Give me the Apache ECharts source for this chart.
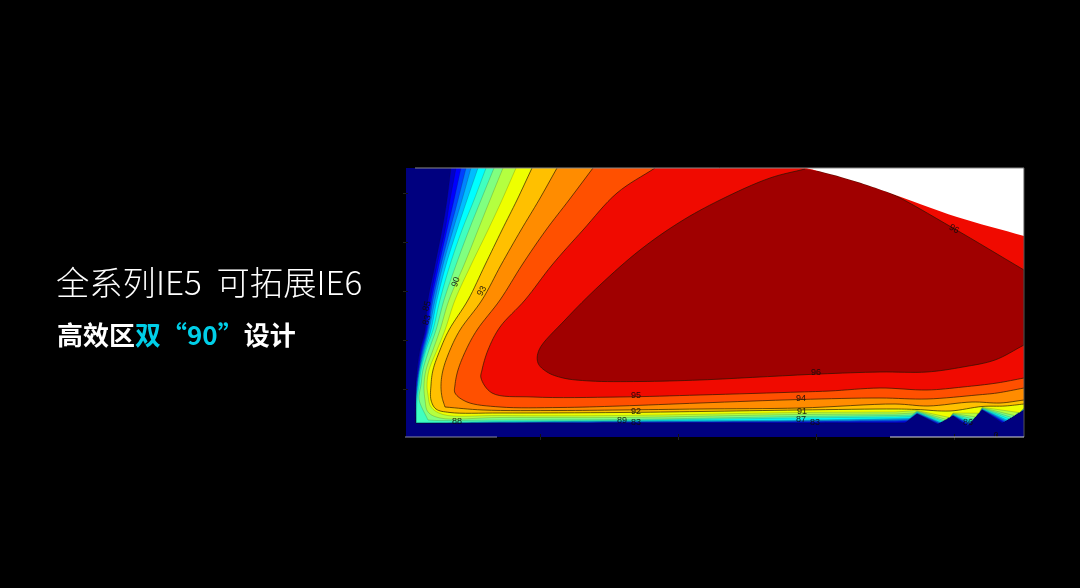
<!DOCTYPE html>
<html>
<head>
<meta charset="utf-8">
<style>html,body{margin:0;padding:0;background:#000}#c{width:1080px;height:588px;filter:blur(0.5px)}</style>
<script src="https://cdn.jsdelivr.net/npm/echarts@6/dist/echarts.min.js"></script>
</head>
<body>
<div id="c"></div>
<script>
var headline = "全系列IE5  可拓展IE6";
var subWhiteA = "高效区";
var subCyan = "双“90”";
var subWhiteB = "设计";

var c1 = [[45,269],[41,237],[36,207],[29,172],[22,137],[19,107],[14,87],[11,67],[10,52],[10,14],[499,14],[511,23],[531,13],[547,21],[561,11],[576,27],[596,14],[618,27]];
var c2 = [[50,269],[44,237],[39,207],[31,172],[24,137],[20,107],[15,87],[12,67],[10,52],[10,14],[214,14.4],[394,14.6],[489,14.7],[500,15],[511,23.2],[531.6,13.3],[547,21.2],[561.6,11.6],[576,27.2],[596.9,14.5],[618,27.1]];
var c3 = [[55,269],[48,237],[41,207],[33,172],[25.5,137],[21,107],[16,87],[12.5,67],[10.5,52],[10,37],[10,14],[94,14.3],[214,14.7],[394,15.2],[489,15.5],[501,16],[511,23.4],[532.3,13.6],[547,21.4],[562.2,12.3],[576,27.4],[597.8,15],[618,27.2]];
var c4 = [[60,269],[52,237],[44,207],[35,172],[27,137],[22,107],[17,87],[13,67],[11,52],[10.1,37],[10.1,14.1],[94,14.5],[214,15],[394,15.7],[489,16.5],[502,17],[511,23.7],[532.9,14],[547,21.7],[562.8,12.9],[576,27.7],[598.6,15.6],[618,27.4]];
var c5 = [[65,269],[56,237],[47,207],[37,172],[29,137],[23,107],[18,87],[13.5,67],[11.5,52],[10.2,37],[10.2,14.1],[94,14.7],[214,15.5],[394,16.3],[489,17.5],[503,18],[511,24],[533.7,14.4],[547,22],[563.6,13.7],[576,28],[599.7,16.2],[618,27.6]];
var c6 = [[72,269],[61,237],[51,207],[40,172],[31,137],[25,107],[19,87],[14,67],[12,52],[10.3,37],[10.3,14.2],[94,15],[214,16],[394,17],[489,18.5],[504,19],[511,24.4],[534.7,14.8],[547,22.3],[564.5,14.7],[576,28.3],[601,17],[618,27.8]];
var c7 = [[80,269],[68,237],[56,207],[44,172],[34,137],[27,107],[20,87],[15,67],[13,52],[11,37],[10.5,22],[10.5,14.5],[51,14.7],[94,15.5],[214,16.5],[394,19],[489,20],[505,20.5],[511,25],[536.1,15.6],[547,22.7],[565.8,16.1],[576,28.6],[603,18.2],[618,28.1]];
var c8 = [[88,269],[75,237],[63,207],[50,172],[38,137],[30,107],[23,87],[17,67],[15,52],[13,40],[14,34],[22,17],[31,16.5],[94,17],[214,17.5],[394,20.5],[489,21.5],[506,22],[511,25.5],[537.9,16.4],[547,23.1],[567.5,17.9],[576,29],[605.5,19.6],[618,28.4]];
var c9 = [[97,269],[84,237],[72,207],[58,172],[43,137],[34,107],[27,87],[20,67],[18,52],[19,37],[22,25],[34,19],[94,19.5],[214,19.5],[394,22.5],[489,23],[508,24],[511,26],[540.1,17.6],[547,23.5],[569.6,20.1],[576,29.3],[608.5,21.4],[618,28.7]];
var c10 = [[110,269],[96,237],[82,207],[65,172],[49,137],[39,107],[31,87],[23,67],[21,52],[22,42],[25,30],[37,22.5],[94,21.5],[214,21.5],[394,24.5],[489,25],[511,26.5],[543.8,19.4],[547,24],[573,23.8],[576,29.7],[613.6,24.4],[618,29]];
var c11 = [[126,269],[111,237],[96,207],[79,172],[62,137],[43,107],[34,87],[27,67],[25,52],[25,37],[30,28],[44,24.5],[94,24],[214,24.5],[294,25.5],[394,27],[489,28],[511,27.5],[544,26],[576,30.5],[599,31],[618,33]];
var c12 = [[151,269],[133,237],[115,207],[95,172],[76,137],[54,107],[44,87],[37,67],[35,52],[36,40],[39,30],[77,27],[154,26.5],[214,27],[294,28],[394,29],[489,33],[522,31],[566,35],[594,34],[618,37]];
var c13 = [[187,269],[163,237],[140,207],[116,172],[94,137],[71,107],[60,87],[52,67],[49,52],[49,44],[61,35],[94,30],[154,29.5],[214,31],[294,34],[394,37.5],[474,39],[521,38],[571,42],[591,44],[618,49]];
var c14 = [[249,269],[211,244],[177,207],[146,172],[119,137],[94,110],[82,87],[76,67],[75,59],[86,44],[127,40],[214,40],[294,42],[394,45],[424,46],[474,49],[521,47],[557,50],[591,54],[618,59]];
var c15 = [[399,268],[364,259],[314,237],[274,215],[234,187],[194,152],[159,117],[133,87],[132,74],[141,65],[157,59],[184,56],[234,55.5],[294,57],[354,60],[414,63],[474,65],[521,65],[557,70],[589,77],[618,92],[618,167],[547,209],[484,244],[461,252],[434,260.3],[411,266.3]];
var blank = [[400,269],[411,266.3],[434,260.3],[461,252],[484,244],[551,220],[618,201],[618,269]];

var contours = [c1,c2,c3,c4,c5,c6,c7,c8,c9,c10,c11,c12,c13,c14,c15];
var bandColors = ["#0000c8","#0000ff","#0040ff","#0084ff","#00bcff","#00ffff","#40ffbf","#80ff80","#b4ff40","#eeff00","#ffc000","#ff8c00","#ff5000","#f00a00","#a00000"];
var baseColor = "#00007f";

var contourTexts = ["90","93","85","83","88","95","92","89","83","96","94","91","87","83","86","96","0"];
var contourTextAt = [[50,155],[76,146],[21,131],[21,117],[51,15],[230,41],[230,25],[216,16],[230,14],[410,64],[395,38],[396,25],[395,17],[409,14],[562,14],[548,208],[590,1]];
var contourTextTurn = [72,62,75,75,0,0,0,0,0,0,0,0,0,0,0,-30,0];

var xTicks = [134,272,410,548];
var xTicksLow = [134,272,410,548,590];
var yTicks = [48,97,146,195,244];
var topEdge = [[9,269],[618,269]];
var rightEdge = [[618,269],[618,0]];
var lowEdgeA = [[-1,0],[91,0]];
var lowEdgeB = [[484,0],[618,0]];
var zigzagFrom = 489;

// rendering helper: rounds the hand-read polylines into smooth contours
function spline(run){
  var out = [run[0]];
  function d(a,b){return Math.max(Math.sqrt(Math.hypot(a[0]-b[0],a[1]-b[1])),1e-3);}
  function mix(a,b,ta,tb,t){return [(tb-t)/(tb-ta)*a[0]+(t-ta)/(tb-ta)*b[0],(tb-t)/(tb-ta)*a[1]+(t-ta)/(tb-ta)*b[1]];}
  for (var i=0;i<run.length-1;i++){
    var p1=run[i],p2=run[i+1];
    var p0=run[i-1]||[2*p1[0]-p2[0],2*p1[1]-p2[1]];
    var p3=run[i+2]||[2*p2[0]-p1[0],2*p2[1]-p1[1]];
    var t0=0,t1=t0+d(p0,p1),t2=t1+d(p1,p2),t3=t2+d(p2,p3);
    for (var s=1;s<=8;s++){
      var t=t1+(t2-t1)*s/8;
      var a1=mix(p0,p1,t0,t1,t),a2=mix(p1,p2,t1,t2,t),a3=mix(p2,p3,t2,t3,t);
      var b1=mix(a1,a2,t0,t2,t),b2=mix(a2,a3,t1,t3,t);
      out.push(mix(b1,b2,t1,t2,t));
    }
  }
  return out;
}
function turn(a,b,c){
  var u=Math.atan2(b[1]-a[1],b[0]-a[0]),v=Math.atan2(c[1]-b[1],c[0]-b[0]);
  var w=Math.abs(u-v);return (w>Math.PI?2*Math.PI-w:w)*180/Math.PI;
}
function curve(data, px, keepStraight){
  var out=[px[0]],run=[px[0]];
  function flush(){
    if(run.length>2){var s=spline(run);for(var k=1;k<s.length;k++)out.push(s[k]);}
    else if(run.length===2){out.push(run[1]);}
  }
  for(var i=1;i<px.length;i++){
    run.push(px[i]);
    var sharp=i===px.length-1||turn(px[i-1],px[i],px[i+1])>55||(keepStraight&&data[i][0]>=zigzagFrom);
    if(sharp){flush();run=[px[i]];}
  }
  return out;
}

var chart = echarts.init(document.getElementById('c'), null, {renderer:'canvas'});

function edge(d, col){
  return {type:'line', data:d, symbol:'none', silent:true, clip:false, z:5, lineStyle:{color:col, width:1}};
}

chart.setOption({
  animation:false,
  backgroundColor:'#000000',
  title:[
    {text:headline, left:56, top:260, padding:0, textStyle:{color:'#ffffff', fontFamily:'"Noto Sans CJK SC"', fontWeight:300, fontSize:33.3, lineHeight:44}},
    {text:'{w|'+subWhiteA+'}{c|'+subCyan+'}{w|'+subWhiteB+'}', left:57, top:317, padding:0, textStyle:{rich:{
      w:{color:'#ffffff', fontFamily:'"Noto Sans CJK SC"', fontWeight:'bold', fontSize:26, lineHeight:36},
      c:{color:'#00cfe8', fontFamily:'"Noto Sans CJK SC"', fontWeight:'bold', fontSize:26, lineHeight:36}
    }}}
  ],
  grid:{left:406, top:168, width:618, height:269, show:true, backgroundColor:baseColor, borderWidth:0},
  xAxis:[
    {type:'value', min:0, max:618, position:'bottom', splitLine:{show:false}, axisLine:{show:false}, axisLabel:{show:false},
     axisTick:{show:true, inside:true, length:3, lineStyle:{color:'#111'}, customValues:xTicksLow}},
    {type:'value', min:0, max:618, position:'top', splitLine:{show:false}, axisLine:{show:false}, axisLabel:{show:false},
     axisTick:{show:true, inside:true, length:3, lineStyle:{color:'#222'}, customValues:xTicks}}
  ],
  yAxis:[
    {type:'value', min:0, max:269, position:'left', splitLine:{show:false}, axisLine:{show:false}, axisLabel:{show:false},
     axisTick:{show:true, inside:true, length:2, lineStyle:{color:'#111'}, customValues:yTicks}},
    {type:'value', min:0, max:269, position:'right', splitLine:{show:false}, axisLine:{show:false}, axisLabel:{show:false},
     axisTick:{show:true, inside:true, length:3, lineStyle:{color:'#222'}, customValues:yTicks}}
  ],
  series:[
    {type:'custom', coordinateSystem:'cartesian2d', silent:true, z:2, clip:true,
     data:contours.map(function(c,i){return [i];}),
     encode:{x:[],y:[]},
     renderItem:function(params, api){
       var i = params.dataIndex;
       var raw = contours[i];
       var px = raw.map(function(p){return api.coord(p);});
       var pts = curve(raw, px, i<10);
       var closed = pts.slice();
       if (i < 14) closed.push(api.coord([618,269]));
       return {type:'group', children:[
         {type:'polygon', shape:{points:closed}, style:{fill:bandColors[i], stroke:null}},
         {type:'polyline', shape:{points:pts}, style:{fill:null, stroke:'rgba(30,20,0,'+(i<10?0.3:0.65)+')', lineWidth:i<10?0.6:1}}
       ]};
     }},
    {type:'custom', coordinateSystem:'cartesian2d', silent:true, z:3,
     data:[[0]], encode:{x:[],y:[]},
     renderItem:function(params, api){
       var px = blank.map(function(p){return api.coord(p);});
       return {type:'polygon', shape:{points:curve(blank, px, false)}, style:{fill:'#ffffff'}};
     }},
    {type:'custom', coordinateSystem:'cartesian2d', silent:true, z:4,
     data:contourTexts.map(function(t,i){return [contourTextAt[i][0],contourTextAt[i][1]];}),
     renderItem:function(params, api){
       var i = params.dataIndex;
       var p = api.coord([api.value(0), api.value(1)]);
       return {type:'text', x:p[0], y:p[1], rotation:contourTextTurn[i]*Math.PI/180,
               style:{text:contourTexts[i], fill:'rgba(15,10,10,0.9)', font:'9px "Liberation Sans"', align:'center', verticalAlign:'middle'}};
     }},
    edge(topEdge,'#8a8a8a'),
    edge(rightEdge,'#555555'),
    edge(lowEdgeA,'#8a8aa0'),
    edge(lowEdgeB,'#d8d8d8')
  ]
});
</script>
</body>
</html>
